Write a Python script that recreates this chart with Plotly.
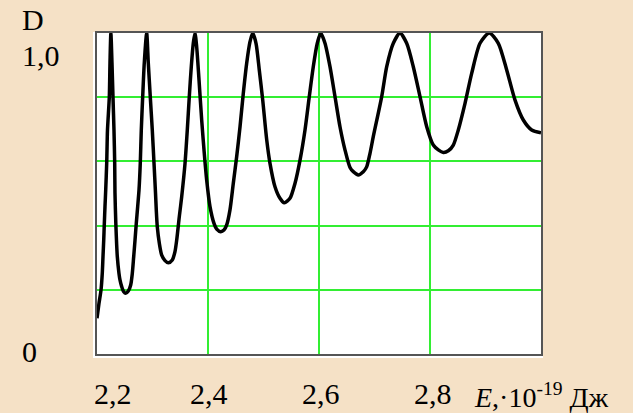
import plotly.graph_objects as go

# Energy E (x10^-19 J) and transmission coefficient D
energy = [
    2.2000, 2.2036, 2.2072, 2.2095, 2.2108, 2.2121, 2.2132, 2.2144, 2.2157, 2.2175,
    2.2189, 2.2222, 2.2234, 2.2250, 2.2270, 2.2288, 2.2306, 2.2319, 2.2324, 2.2339,
    2.2366, 2.2396, 2.2414, 2.2445, 2.2481, 2.2517, 2.2564, 2.2607, 2.2636, 2.2661,
    2.2685, 2.2708, 2.2733, 2.2757, 2.2780, 2.2798, 2.2823, 2.2852, 2.2895, 2.2924,
    2.2960, 2.2996, 2.3027, 2.3054, 2.3068, 2.3086, 2.3123, 2.3166, 2.3225, 2.3285,
    2.3357, 2.3405, 2.3436, 2.3483, 2.3526, 2.3586, 2.3627, 2.3663, 2.3699, 2.3735,
    2.3765, 2.3796, 2.3838, 2.3886, 2.3933, 2.3976, 2.4036, 2.4108, 2.4157, 2.4229,
    2.4288, 2.4337, 2.4396, 2.4456, 2.4517, 2.4577, 2.4636, 2.4697, 2.4757, 2.4805,
    2.4865, 2.4924, 2.4986, 2.5058, 2.5117, 2.5207, 2.5297, 2.5375, 2.5477, 2.5568,
    2.5658, 2.5748, 2.5825, 2.5897, 2.5969, 2.6031, 2.6108, 2.6198, 2.6288, 2.6378,
    2.6468, 2.6559, 2.6618, 2.6708, 2.6798, 2.6859, 2.6919, 2.6978, 2.7130, 2.7220,
    2.7339, 2.7459, 2.7580, 2.7699, 2.7820, 2.7941, 2.8059, 2.8150, 2.8240, 2.8330,
    2.8420, 2.8510, 2.8631, 2.8751, 2.8901, 2.9068, 2.9231, 2.9382, 2.9532, 2.9681,
    2.9832, 3.0000,
]
transmission = [
    0.111, 0.158, 0.199, 0.251, 0.303, 0.355, 0.407, 0.459, 0.511, 0.595,
    0.698, 0.801, 0.907, 1.000, 0.907, 0.801, 0.698, 0.595, 0.502, 0.408,
    0.303, 0.251, 0.231, 0.210, 0.194, 0.189, 0.196, 0.215, 0.251, 0.303,
    0.355, 0.407, 0.459, 0.511, 0.595, 0.698, 0.801, 0.907, 1.000, 0.907,
    0.801, 0.698, 0.595, 0.502, 0.449, 0.397, 0.345, 0.308, 0.291, 0.284,
    0.293, 0.319, 0.355, 0.428, 0.490, 0.594, 0.698, 0.802, 0.895, 0.968,
    1.000, 0.957, 0.854, 0.729, 0.625, 0.542, 0.459, 0.407, 0.389, 0.381,
    0.386, 0.402, 0.449, 0.532, 0.615, 0.708, 0.812, 0.906, 0.973, 1.000,
    0.968, 0.885, 0.791, 0.667, 0.594, 0.521, 0.485, 0.471, 0.485, 0.532,
    0.604, 0.698, 0.802, 0.895, 0.968, 1.000, 0.968, 0.895, 0.802, 0.708,
    0.636, 0.581, 0.568, 0.558, 0.568, 0.583, 0.625, 0.677, 0.802, 0.895,
    0.968, 1.000, 0.968, 0.895, 0.802, 0.708, 0.651, 0.636, 0.628, 0.633,
    0.651, 0.698, 0.781, 0.874, 0.968, 1.000, 0.968, 0.885, 0.791, 0.729,
    0.698, 0.689,
]

x_ticks = [2.2, 2.4, 2.6, 2.8]
x_tick_text = ["2,2", "2,4", "2,6", "2,8"]
x_grid = [2.4, 2.6, 2.8]
y_grid = [0.2, 0.4, 0.6, 0.8]
y_ticks = [0.0, 1.0]
y_tick_text = ["0", "1,0"]
y_title = "D"
x_title = "<i>E</i>,·10<sup>-19</sup> Дж"

BG = "#F5E1C6"
GRID = "#33EE33"
FONT = dict(family="Liberation Serif, Times New Roman, serif", size=30, color="black")
TITLE_FONT = dict(family="Liberation Serif, Times New Roman, serif", size=28, color="black")

fig = go.Figure()
fig.add_trace(go.Scatter(
    x=energy, y=transmission, mode="lines",
    line=dict(color="black", width=3.5, shape="spline", smoothing=0.7),
    hoverinfo="skip", showlegend=False,
))

fig.update_layout(
    width=633, height=413,
    margin=dict(l=97, r=92, t=33, b=59),
    paper_bgcolor=BG, plot_bgcolor="white",
    showlegend=False,
    xaxis=dict(range=[2.2, 3.0], tickvals=x_grid, showticklabels=False, ticks="",
               showgrid=True, gridcolor=GRID, gridwidth=1.6, zeroline=False,
               showline=True, mirror=True, linecolor="#555555", linewidth=2),
    yaxis=dict(range=[0, 1], tickvals=y_grid, showticklabels=False, ticks="",
               showgrid=True, gridcolor=GRID, gridwidth=1.6, zeroline=False,
               showline=True, mirror=True, linecolor="#555555", linewidth=2),
    shapes=[dict(type="rect", xref="paper", yref="paper", layer="below",
                 x0=-0.009, x1=1.0045, y0=-0.0125, y1=1.003,
                 fillcolor="white", line=dict(width=0))],
)

# x tick labels
label_shift = {2.2: 16, 2.4: 1, 2.6: 2, 2.8: 3}
for v, t in zip(x_ticks, x_tick_text):
    fig.add_annotation(x=v, xref="x", y=0, yref="paper", text=t, showarrow=False,
                       xanchor="center", yanchor="middle", xshift=label_shift[v],
                       yshift=-39, font=FONT)

# y tick labels
y_shift = {0.0: 3, 1.0: -22}
for v, t in zip(y_ticks, y_tick_text):
    fig.add_annotation(x=-0.174, xref="paper", y=v, yref="y", text=t, showarrow=False,
                       xanchor="left", yanchor="middle", yshift=y_shift[v], font=FONT)

fig.add_annotation(x=-0.174, xref="paper", y=1.0405, yref="paper", text=y_title,
                   showarrow=False, xanchor="left", yanchor="middle", font=FONT)
fig.add_annotation(x=0.845, xref="paper", y=0, yref="paper", text=x_title,
                   showarrow=False, xanchor="left", yanchor="middle", yshift=-41,
                   font=TITLE_FONT)

fig.write_html("out.html", config={"displayModeBar": False},
               post_script="document.body.style.margin='0';")
